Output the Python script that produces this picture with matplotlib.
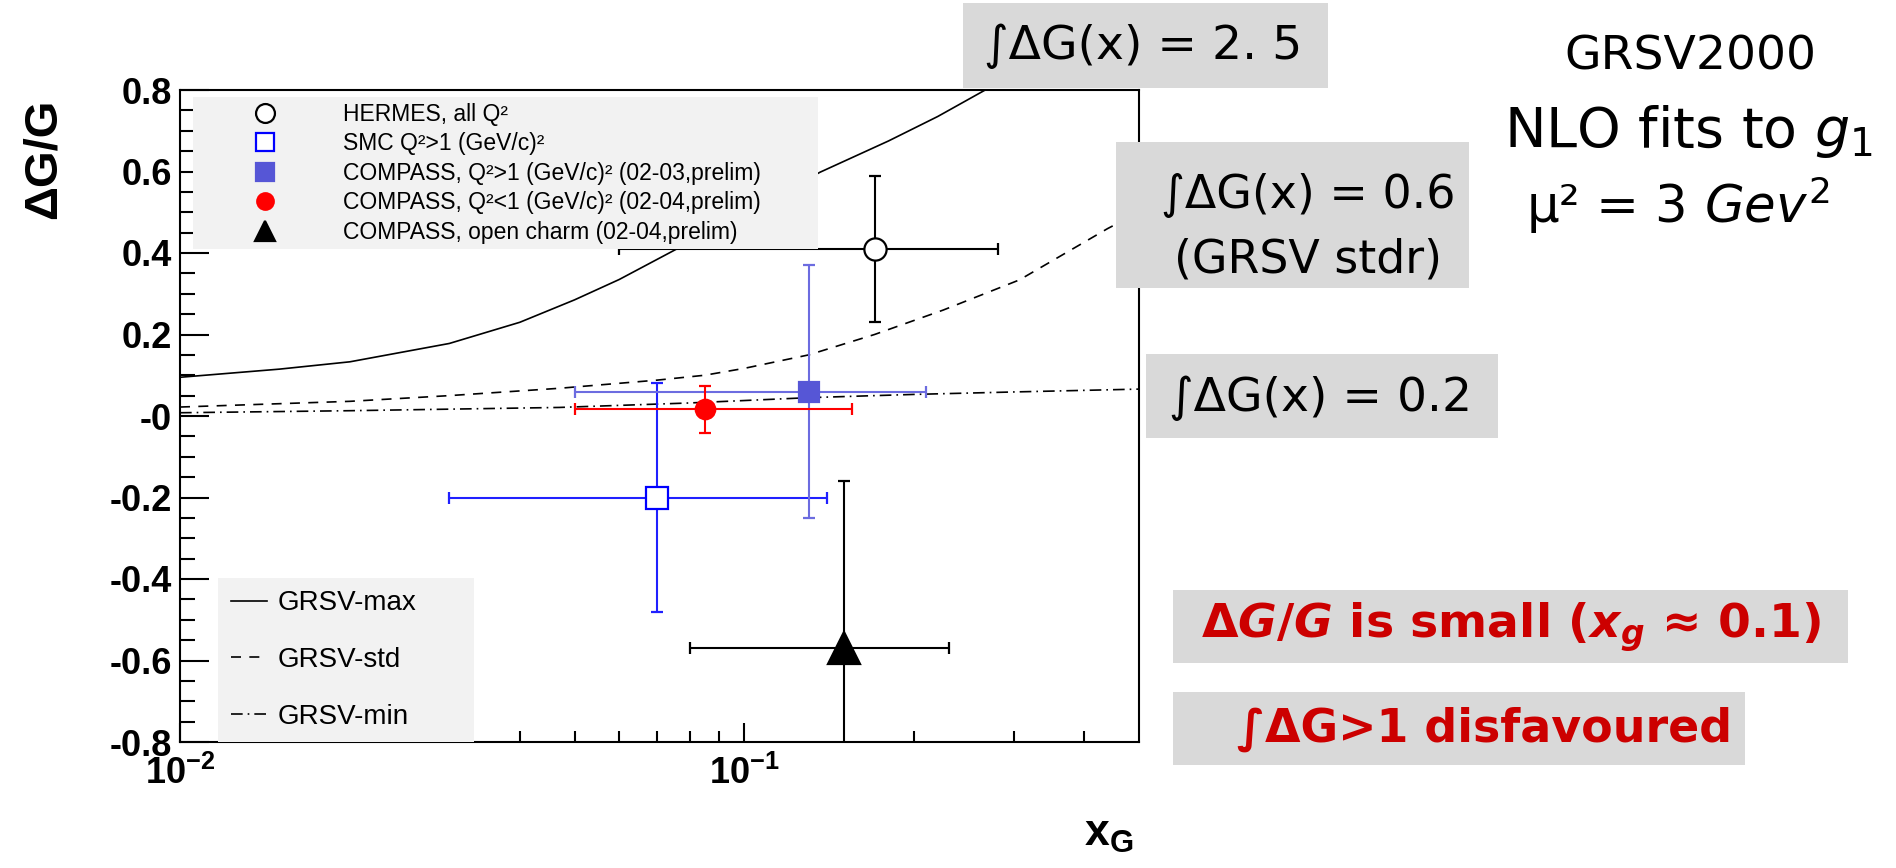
import matplotlib
matplotlib.use('Agg')
import matplotlib.pyplot as plt
from matplotlib.lines import Line2D
from matplotlib.patches import Rectangle
from matplotlib.ticker import FixedLocator, FixedFormatter, NullFormatter

plt.rcParams['mathtext.fontset'] = 'custom'
plt.rcParams['mathtext.rm'] = 'DejaVu Sans'
plt.rcParams['mathtext.it'] = 'DejaVu Sans:italic'
plt.rcParams['mathtext.bf'] = 'Liberation Sans:bold'
plt.rcParams['mathtext.sf'] = 'DejaVu Sans:italic:bold'

# GRSV2000 curves
max_x = [0.01, 0.015, 0.02, 0.03, 0.04, 0.05, 0.06, 0.0766, 0.1, 0.136, 0.18, 0.22, 0.267, 0.3]
max_y = [0.095, 0.115, 0.133, 0.178, 0.23, 0.285, 0.335, 0.413, 0.495, 0.598, 0.675, 0.735, 0.80, 0.84]
std_x = [0.01, 0.02, 0.03, 0.047, 0.07, 0.085, 0.1, 0.13, 0.17, 0.225, 0.307, 0.44, 0.5]
std_y = [0.022, 0.036, 0.05, 0.068, 0.088, 0.10, 0.117, 0.15, 0.20, 0.26, 0.334, 0.46, 0.50]
min_x = [0.01, 0.02, 0.047, 0.08, 0.13, 0.2, 0.3, 0.5]
min_y = [0.008, 0.013, 0.021, 0.032, 0.045, 0.053, 0.059, 0.066]

# measurements
labels = ['HERMES, all Q²', 'SMC Q²>1 (GeV/c)²',
          'COMPASS, Q²>1 (GeV/c)² (02-03,prelim)',
          'COMPASS, Q²<1 (GeV/c)² (02-04,prelim)',
          'COMPASS, open charm (02-04,prelim)']
xg = [0.17, 0.07, 0.13, 0.085, 0.15]
dgg = [0.41, -0.20, 0.06, 0.016, -0.57]
xg_lo = [0.060, 0.030, 0.050, 0.050, 0.080]
xg_hi = [0.281, 0.140, 0.210, 0.155, 0.230]
dgg_err = [0.18, 0.28, 0.31, 0.057, 0.41]

markers = ['o', 's', 's', 'o', '^']
msizes = [16, 16, 15, 14, 23]
face = ['white', 'white', '#5656d6', '#ff0000', 'black']
edge = ['black', '#0000ff', '#5656d6', '#ff0000', 'black']
ecol = ['black', '#2020ff', '#6c6ce0', '#ff0000', 'black']

W, H = 1896, 868
fig = plt.figure(figsize=(W / 100, H / 100), dpi=100)
ax = fig.add_axes([180 / W, 1 - 742 / H, 959 / W, 652 / H])
ax.set_xscale('log')
ax.set_xlim(0.01, 0.5)
ax.set_ylim(-0.8, 0.8)

l_max, = ax.plot(max_x, max_y, color='black', lw=1.2, ls='-')
l_std, = ax.plot(std_x, std_y, color='black', lw=1.2, ls=(0, (6, 5)))
l_min, = ax.plot(min_x, min_y, color='black', lw=1.2, ls=(0, (7, 3, 1, 3)))

for i in range(len(xg)):
    ax.errorbar(xg[i], dgg[i],
                xerr=[[xg[i] - xg_lo[i]], [xg_hi[i] - xg[i]]], yerr=dgg_err[i],
                fmt=markers[i], ms=msizes[i], mfc=face[i], mec=edge[i], mew=1.6,
                ecolor=ecol[i], elinewidth=1.5, capsize=4, capthick=1.5, zorder=4)

# axes styling
for s in ax.spines.values():
    s.set_linewidth(1.5)
ax.tick_params(which='both', direction='in', top=False, right=False, width=1.5)
ax.xaxis.set_tick_params(which='major', length=14, pad=10)
ax.xaxis.set_tick_params(which='minor', length=8)
ax.yaxis.set_tick_params(which='major', length=21, pad=6)
ax.yaxis.set_tick_params(which='minor', length=11)

ax.xaxis.set_major_locator(FixedLocator([0.01, 0.1]))
ax.xaxis.set_major_formatter(FixedFormatter([r'$\mathbf{10^{-2}}$', r'$\mathbf{10^{-1}}$']))
ax.xaxis.set_minor_locator(FixedLocator([0.02, 0.03, 0.04, 0.05, 0.06, 0.07, 0.08, 0.09, 0.2, 0.3, 0.4]))
ax.xaxis.set_minor_formatter(NullFormatter())
yt = [-0.8, -0.6, -0.4, -0.2, 0.0, 0.2, 0.4, 0.6, 0.8]
ax.yaxis.set_major_locator(FixedLocator(yt))
ax.yaxis.set_major_formatter(FixedFormatter(['-0.8', '-0.6', '-0.4', '-0.2', '-0', '0.2', '0.4', '0.6', '0.8']))
ax.yaxis.set_minor_locator(FixedLocator([v / 100 for v in range(-80, 81, 5)]))
for lab in ax.get_xticklabels() + ax.get_yticklabels():
    lab.set_fontfamily('Liberation Sans')
    lab.set_fontweight('bold')
    lab.set_fontsize(26)

ax.set_ylabel('ΔG/G', fontfamily='Liberation Sans', fontweight='bold', fontsize=34,
              rotation=90, ha='center', va='center')
ax.yaxis.set_label_coords(-0.142, 0.895)
ax.set_xlabel(r'$\mathbf{x_G}$', fontsize=32)
ax.xaxis.set_label_coords(0.968, -0.108)

# legends
h1 = [Line2D([], [], ls='none', marker=markers[i], ms=msizes[i] * 0.85, mfc=face[i],
             mec=edge[i], mew=1.6) for i in range(len(xg))]
h1[4].set_markersize(14)
leg1 = ax.legend(h1, labels, loc='upper left', bbox_to_anchor=(0.0136, 0.989, 0.652, 0),
                 mode='expand', prop=dict(family='Liberation Sans', size=16.5),
                 borderpad=0.25, labelspacing=0.28, handlelength=5.8, handletextpad=0.5,
                 borderaxespad=0, frameon=True, fancybox=False, facecolor='#f2f2f2',
                 edgecolor='none', framealpha=1)
ax.add_artist(leg1)
ax.legend([l_max, l_std, l_min], ['GRSV-max', 'GRSV-std', 'GRSV-min'], loc='lower left',
          bbox_to_anchor=(0.04, 0.0, 0.267, 0), mode='expand',
          prop=dict(family='Liberation Sans', size=20),
          borderpad=0.45, labelspacing=1.1, handlelength=1.3, handletextpad=0.4,
          borderaxespad=0, frameon=True, fancybox=False, facecolor='#f2f2f2',
          edgecolor='none', framealpha=1)


def box(x0, y0, x1, y1):
    fig.patches.append(Rectangle((x0 / W, 1 - y1 / H), (x1 - x0) / W, (y1 - y0) / H,
                                 transform=fig.transFigure, facecolor='#d9d9d9',
                                 edgecolor='none', zorder=1))


def txt(x, y, s, **kw):
    fig.text(x / W, 1 - y / H, s, ha='center', va='center', family='DejaVu Sans', **kw)


box(963, 3, 1328, 88)
txt(1143, 46, '∫ΔG(x) = 2. 5', fontsize=34)
box(1116, 142, 1469, 288)
txt(1308, 195, '∫ΔG(x) = 0.6', fontsize=33)
txt(1308, 260, '(GRSV stdr)', fontsize=33)
box(1146, 354, 1498, 438)
txt(1321, 398, '∫ΔG(x) = 0.2', fontsize=34)

txt(1690, 57, 'GRSV2000', fontsize=34)
txt(1688, 132, r'NLO fits to $g_1$', fontsize=40)
txt(1678, 205, r'μ² = 3 $\mathit{Gev}^2$', fontsize=37)

box(1173, 590, 1848, 663)
txt(1511, 627, r'Δ$\mathsf{G}$/$\mathsf{G}$ is small ($\mathsf{x}_\mathsf{g}$ ≈ 0.1)',
    fontsize=34, color='#cc0000', fontweight='bold')
box(1173, 692, 1745, 765)
txt(1485, 729, '∫ΔG>1 disfavoured', fontsize=33, color='#cc0000', fontweight='bold')

fig.savefig('out.png', dpi=100)
